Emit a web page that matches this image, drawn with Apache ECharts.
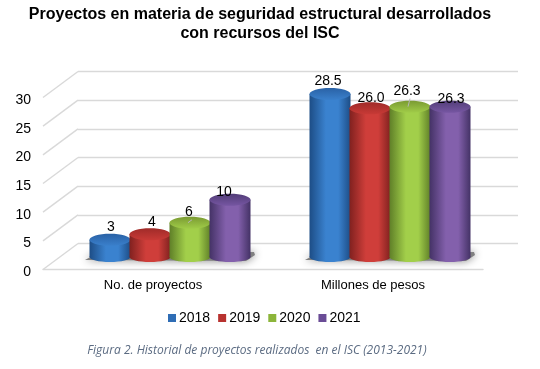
<!DOCTYPE html>
<html>
<head>
<meta charset="utf-8">
<style>
  html, body { margin: 0; padding: 0; background: #fff; }
  #chart { width: 540px; height: 369px; }
</style>
<script src="https://cdn.jsdelivr.net/npm/echarts@6/dist/echarts.min.js"></script>
</head>
<body>
<div id="chart"></div>
<script>
// values
const categories = ['No. de proyectos', 'Millones de pesos'];
const years = ['2018', '2019', '2020', '2021'];
const values2018 = [3, 28.5];
const values2019 = [4, 26.0];
const values2020 = [6, 26.3];
const values2021 = [10, 26.3];
const yTicks = [0, 5, 10, 15, 20, 25, 30];

const allValues = [values2018, values2019, values2020, values2021];

// [edge, centre, top cap back, top cap front]
const barColors = [
  ['#1d4d86', '#3a82cf', '#2a62a6', '#3a80cc'],
  ['#80211f', '#cf3e3a', '#a02b29', '#c83a36'],
  ['#5f7f28', '#a2cf4a', '#7a9a32', '#a0cc48'],
  ['#443266', '#8360ac', '#523d78', '#7656a2']
];
const legendColors = ['#2f6db5', '#b8322f', '#8cb53a', '#6a4c96'];

// label nudges from the cylinder top, by category then year: [dx, dy]
const labelNudge = [
  [[1, -13], [2, -12], [-1, -11], [-6, -8]],
  [[-2, -13], [1, -10], [-3, -16], [1, -8]]
];
const leaderLines = { '0-2': true, '1-2': true };

const barW = 40;
const capRy = 6;

const chart = echarts.init(document.getElementById('chart'));

function sideGradient(c) {
  return new echarts.graphic.LinearGradient(0, 0, 1, 0, [
    { offset: 0, color: c[0] },
    { offset: 0.4, color: c[1] },
    { offset: 0.7, color: c[1] },
    { offset: 1, color: c[0] }
  ]);
}

function renderCylinder(yearIdx) {
  return function (params, api) {
    const catIdx = api.value(0);
    const val = api.value(1);
    const top = api.coord([catIdx, val]);
    const base = api.coord([catIdx, 0]);
    const cx = top[0] + (yearIdx - 1.5) * barW;
    const w = barW + 1;
    const c = barColors[yearIdx];
    const fill = sideGradient(c);
    const nudge = labelNudge[catIdx][yearIdx];
    const text = catIdx === 0 ? String(val) : val.toFixed(1);
    const children = [
      { type: 'ellipse', shape: { cx: cx, cy: base[1], rx: w / 2, ry: capRy - 1 }, style: { fill: fill } },
      { type: 'rect', shape: { x: cx - w / 2, y: top[1], width: w, height: base[1] - top[1] }, style: { fill: fill } },
      {
        type: 'ellipse',
        shape: { cx: cx, cy: top[1], rx: w / 2, ry: capRy },
        style: {
          fill: new echarts.graphic.LinearGradient(0, 0, 0, 1, [
            { offset: 0, color: c[2] },
            { offset: 1, color: c[3] }
          ])
        }
      }
    ];
    if (leaderLines[catIdx + '-' + yearIdx]) {
      children.push({
        type: 'line',
        shape: { x1: cx + nudge[0] + 3, y1: top[1] + nudge[1] + 8, x2: cx - 2, y2: top[1] },
        style: { stroke: '#b5b5b5', lineWidth: 1 },
        z2: 20
      });
    }
    children.push({
      type: 'text',
      x: cx + nudge[0],
      y: top[1] + nudge[1],
      style: { text: text, fill: '#000', font: '14px "Liberation Sans", Arial', align: 'center', verticalAlign: 'middle' },
      z2: 30
    });
    return { type: 'group', children: children };
  };
}

function renderFloorShadow(params, api) {
  const pt = api.coord([api.value(0), 0]);
  const x = pt[0];
  const y = pt[1];
  return {
    type: 'polygon',
    shape: { points: [[x - 85, y + 3], [x - 76, y - 2], [x + 84, y - 5], [x + 85, y - 2], [x + 76, y + 4]] },
    style: { fill: '#808080', shadowBlur: 8, shadowColor: '#808080' }
  };
}

function renderDiagonal(params, api) {
  const y = api.coord([0, api.value(0)])[1];
  const x = params.coordSys.x;
  return {
    type: 'line',
    shape: { x1: x, y1: y, x2: x + 35, y2: y - 26 },
    style: { stroke: '#d9d9d9', lineWidth: 1.4 }
  };
}

const barSeries = years.map(function (year, i) {
  return {
    type: 'custom',
    name: year,
    xAxisIndex: 2,
    yAxisIndex: 2,
    itemStyle: { color: legendColors[i] },
    renderItem: renderCylinder(i),
    encode: { x: 0, y: 1 },
    data: allValues[i].map(function (v, k) { return [k, v]; })
  };
});

const option = {
  animation: false,
  backgroundColor: '#fff',
  title: [
    {
      text: 'Proyectos en materia de seguridad estructural desarrollados\ncon recursos del ISC',
      left: 255,
      top: 0,
      textAlign: 'center',
      textStyle: { color: '#000', fontFamily: '"Liberation Sans", Arial', fontSize: 16, fontWeight: 'bold', lineHeight: 19 }
    },
    {
      text: 'Figura 2. Historial de proyectos realizados  en el ISC (2013-2021)',
      left: 252,
      top: 340,
      textAlign: 'center',
      textStyle: { color: '#5b6b82', fontFamily: '"Open Sans"', fontSize: 12, fontStyle: 'italic', fontWeight: 'normal' }
    }
  ],
  legend: {
    data: years,
    left: 163,
    top: 306,
    icon: 'rect',
    itemWidth: 8,
    itemHeight: 8,
    itemGap: 8,
    textStyle: { color: '#000', fontFamily: '"Liberation Sans", Arial', fontSize: 14, padding: [0, 0, 0, -2] }
  },
  grid: [
    { left: 43, right: 57, top: 97.5, height: 172 },
    { left: 78, right: 22, top: 71.5, height: 172 },
    { left: 60, right: 40, top: 85.5, height: 171.5 },
    // tick labels sit a little below the front plane lines
    { left: 43, right: 57, top: 100, height: 172 }
  ],
  xAxis: [
    {
      gridIndex: 0,
      type: 'category',
      data: categories,
      axisTick: { show: false },
      axisLine: { lineStyle: { color: '#d9d9d9', width: 1.4 } },
      axisLabel: { color: '#000', fontFamily: '"Liberation Sans", Arial', fontSize: 13, margin: 9 }
    },
    { gridIndex: 1, type: 'category', data: categories, show: false },
    { gridIndex: 2, type: 'category', data: categories, show: false },
    { gridIndex: 3, type: 'category', data: categories, show: false }
  ],
  yAxis: [
    { gridIndex: 0, type: 'value', min: 0, max: 30, interval: 5, show: false },
    {
      gridIndex: 1,
      type: 'value',
      min: 0,
      max: 30,
      interval: 5,
      axisLine: { show: false },
      axisTick: { show: false },
      axisLabel: { show: false },
      splitLine: { lineStyle: { color: '#d9d9d9', width: 1.4 } }
    },
    { gridIndex: 2, type: 'value', min: 0, max: 30, interval: 5, show: false },
    {
      gridIndex: 3,
      type: 'value',
      min: 0,
      max: 30,
      interval: 5,
      axisLine: { show: false },
      axisTick: { show: false },
      splitLine: { show: false },
      axisLabel: { color: '#000', fontFamily: '"Liberation Sans", Arial', fontSize: 14, margin: 12 }
    }
  ],
  series: [
    {
      type: 'custom',
      name: 'diagonals',
      xAxisIndex: 0,
      yAxisIndex: 0,
      renderItem: renderDiagonal,
      encode: { y: 0 },
      data: yTicks.map(function (t) { return [t]; })
    },
    {
      type: 'custom',
      name: 'floor',
      xAxisIndex: 2,
      yAxisIndex: 2,
      renderItem: renderFloorShadow,
      encode: { x: 0 },
      data: categories.map(function (c, k) { return [k]; })
    }
  ].concat(barSeries)
};

chart.setOption(option);
</script>
</body>
</html>
